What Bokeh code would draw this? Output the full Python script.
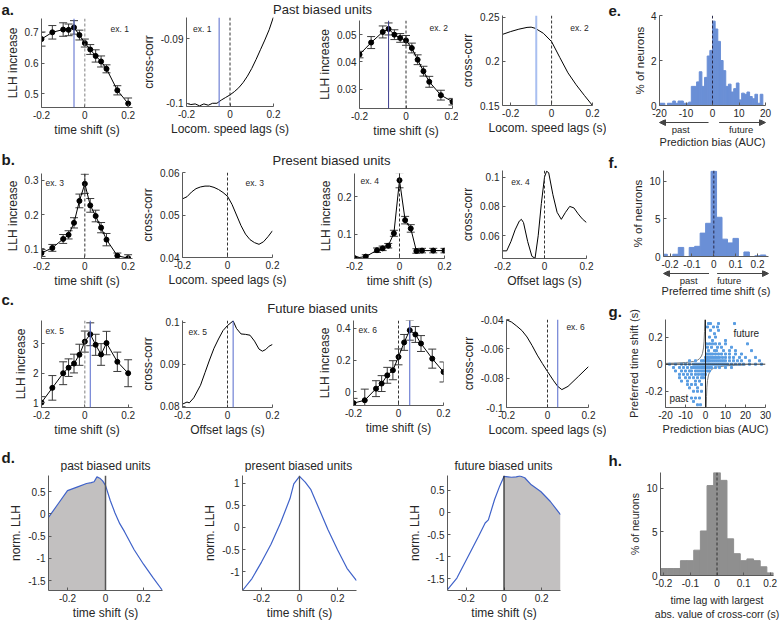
from bokeh.plotting import figure
from bokeh.layouts import row, column
from bokeh.models import (Range1d, FixedTicker, Span, Label, Whisker, TeeHead, Title,
                          ColumnDataSource, Arrow, NormalHead, CustomJSTickFormatter)
from bokeh.embed import file_html
from bokeh.resources import INLINE

# ---------------- data ----------------
shifts = [-0.2, -0.15, -0.1, -0.075, -0.05, -0.025, 0, 0.025, 0.05, 0.075, 0.1, 0.15, 0.2]

a1_llh = [0.678, 0.700, 0.709, 0.708, 0.716, 0.691, 0.665, 0.644, 0.623, 0.605, 0.581, 0.511, 0.468]
a1_err = [0.023, 0.022, 0.022, 0.019, 0.022, 0.016, 0.013, 0.016, 0.020, 0.018, 0.013, 0.015, 0.018]
a2_lag = [-0.2, -0.18, -0.16, -0.14, -0.12, -0.10, -0.08, -0.06, -0.04, -0.02, 0, 0.02, 0.04, 0.06, 0.08, 0.10, 0.12, 0.14, 0.16, 0.18, 0.20]
a2_cc = [-0.1000, -0.1002, -0.1001, -0.1004, -0.1001, -0.1003, -0.1000, -0.1000, -0.0995, -0.0991, -0.0987, -0.0982, -0.0976, -0.0968, -0.0958, -0.0946, -0.0932, -0.0917, -0.0902, -0.0886, -0.0866]
a3_llh = [0.0427, 0.0471, 0.0510, 0.0521, 0.0500, 0.0488, 0.0479, 0.0451, 0.0408, 0.0366, 0.0327, 0.0278, 0.0254]
a3_err = [0.0012, 0.0022, 0.0022, 0.0022, 0.0018, 0.0016, 0.0018, 0.0018, 0.0018, 0.0018, 0.0020, 0.0018, 0.0012]
a4_lag = [-0.24, -0.20, -0.16, -0.12, -0.10, -0.08, -0.04, 0, 0.04, 0.08, 0.12, 0.16, 0.20]
a4_cc = [0.2306, 0.2338, 0.2365, 0.2385, 0.2388, 0.2375, 0.2318, 0.2224, 0.2045, 0.1870, 0.1735, 0.1615, 0.1500]

b1_llh = [0.088, 0.103, 0.129, 0.141, 0.176, 0.240, 0.290, 0.227, 0.196, 0.162, 0.127, 0.080, 0.073]
b1_err = [0.010, 0.010, 0.013, 0.012, 0.015, 0.020, 0.028, 0.020, 0.017, 0.015, 0.018, 0.008, 0.010]
b2_lag = [-0.2, -0.18, -0.16, -0.14, -0.12, -0.10, -0.08, -0.06, -0.04, -0.02, 0, 0.02, 0.04, 0.06, 0.08, 0.10, 0.12, 0.14, 0.16, 0.18, 0.20]
b2_cc = [0.0538, 0.0543, 0.0554, 0.0562, 0.0566, 0.0568, 0.0568, 0.0565, 0.0560, 0.0553, 0.0544, 0.0525, 0.0500, 0.0475, 0.0455, 0.0442, 0.0435, 0.0431, 0.0437, 0.0449, 0.0463]
b3_llh = [0.037, 0.041, 0.058, 0.063, 0.070, 0.103, 0.244, 0.138, 0.116, 0.056, 0.057, 0.057, 0.057]
b3_err = [0.004, 0.005, 0.006, 0.006, 0.006, 0.008, 0.020, 0.010, 0.010, 0.006, 0.006, 0.006, 0.006]
b4_lag = [-0.20, -0.18, -0.16, -0.14, -0.12, -0.11, -0.10, -0.08, -0.06, -0.045, -0.03, -0.015, 0.0, 0.01, 0.02, 0.04, 0.06, 0.08, 0.10, 0.12, 0.14, 0.16, 0.18, 0.20]
b4_cc = [0.0497, 0.0497, 0.0560, 0.0640, 0.0700, 0.0712, 0.0690, 0.0560, 0.0460, 0.0447, 0.0600, 0.0820, 0.1000, 0.1040, 0.1030, 0.0880, 0.0760, 0.0712, 0.0760, 0.0800, 0.0790, 0.0750, 0.0715, 0.0690]

c1_llh = [1.0, 1.5, 2.0, 2.19, 2.33, 2.63, 3.08, 3.33, 2.97, 2.64, 3.03, 2.39, 2.0]
c1_err = [0.2, 0.42, 0.39, 0.30, 0.32, 0.36, 0.36, 0.39, 0.36, 0.37, 0.40, 0.33, 0.46]
c2_lag = [-0.20, -0.18, -0.17, -0.15, -0.12, -0.10, -0.08, -0.06, -0.04, -0.02, 0.0, 0.025, 0.04, 0.06, 0.08, 0.10, 0.12, 0.14, 0.155, 0.17, 0.185, 0.20]
c2_cc = [0.0805, 0.0810, 0.0808, 0.0820, 0.0850, 0.0880, 0.0910, 0.0938, 0.0960, 0.0980, 0.0992, 0.1003, 0.0985, 0.0972, 0.0971, 0.0969, 0.0955, 0.0936, 0.0931, 0.0935, 0.0943, 0.0947]
c3_llh = [-0.07, -0.052, 0.021, 0.053, 0.105, 0.137, 0.221, 0.312, 0.389, 0.362, 0.305, 0.21, 0.126]
c3_err = [0.03, 0.07, 0.05, 0.05, 0.05, 0.06, 0.05, 0.05, 0.063, 0.05, 0.05, 0.06, 0.063]
c4_lag = [-0.2, -0.175, -0.15, -0.125, -0.1, -0.075, -0.05, -0.025, 0, 0.03, 0.05, 0.07, 0.1, 0.15, 0.2]
c4_cc = [-0.0402, -0.0418, -0.0445, -0.0475, -0.0519, -0.0578, -0.0643, -0.0700, -0.0755, -0.0818, -0.0856, -0.0878, -0.0856, -0.0789, -0.0721]

d1_shift = [-0.30, -0.25, -0.20, -0.15, -0.10, -0.075, -0.06, -0.045, -0.03, -0.015, 0.00, 0.025, 0.05, 0.075, 0.10, 0.15, 0.20, 0.25, 0.30]
d1_llh = [-0.08, 0.22, 0.52, 0.60, 0.68, 0.70, 0.72, 0.83, 0.80, 0.74, 0.64, 0.30, 0.02, -0.22, -0.40, -0.80, -1.13, -1.43, -1.72]
d2_shift = [-0.30, -0.25, -0.20, -0.15, -0.10, -0.05, -0.03, 0.00, 0.03, 0.06, 0.10, 0.15, 0.20, 0.25, 0.30]
d2_llh = [-1.42, -1.15, -0.78, -0.38, 0.10, 0.65, 0.98, 1.15, 1.02, 0.85, 0.45, -0.05, -0.50, -0.92, -1.20]
d3_shift = [-0.30, -0.25, -0.19, -0.135, -0.10, -0.083, -0.05, -0.023, 0.00, 0.04, 0.065, 0.085, 0.11, 0.145, 0.195, 0.245, 0.30]
d3_llh = [-1.74, -1.48, -0.99, -0.54, -0.24, -0.17, 0.29, 0.59, 0.81, 0.79, 0.80, 0.82, 0.78, 0.62, 0.47, 0.25, -0.05]

e_left = [-20, -19, -18, -17, -16, -15, -14, -13, -12, -11, -10, -9, -8, -7, -6, -5, -4, -3, -2, -1,
          0, 1, 2, 3, 4, 5, 6, 7, 8, 9, 10, 11, 12, 13, 14, 15, 16, 17, 18]
e_pct = [0.1, 0.1, 0.0, 0.1, 0.1, 0.2, 0.1, 0.2, 0.2, 0.1, 0.1, 0.15, 0.85, 0.85, 1.05, 1.5, 0.85, 1.25, 2.2, 2.45,
         3.75, 3.4, 2.85, 2.0, 1.55, 0.85, 0.95, 0.6, 0.75, 1.0, 0.25, 0.55, 0.5, 0.6, 0.4, 0.3, 0.5, 0.1, 0.5]

f_center = [-0.225, -0.2, -0.175, -0.15, -0.125, -0.1, -0.075, -0.05, -0.025, 0, 0.025, 0.05, 0.075, 0.1, 0.125, 0.15, 0.175, 0.2, 0.225]
f_pct = [0.3, 0.0, 0.3, 1.2, 0.0, 1.2, 1.35, 3.1, 4.4, 11.3, 5.2, 2.3, 1.8, 2.4, 0.0, 0.6, 0.0, 0.1, 0.2]

g_bias = [1.5, 2.5, 6.5, 14.5, 1, 4, 6, 2.5, 6.5, 4.5, 2, 5, 3.5, 10,
          0.5, 2, 3.5, 5, 7, 10, 21, 1, 3, 6, 8, 13, 1.5, 4.5, 5.5, 9, 12, 15, 23,
          0.5, 1.5, 2.5, 3.5, 5, 6.5, 8, 10, 12, 15, 18,
          0, 0.5, 1, 2, 3, 4, 5, 6, 7, 8.5, 10, 12, 14, 17, 20, 25,
          -8, -5, -2, -1, 0, 0.5, 1, 1.5, 2, 3, 4, 5, 6, 7, 8, 9, 10, 12, 14, 16, 18, 22, 27,
          -18, -15, -12, -10, -8, -6, -5, -4, -3, -2, -1, 0, 1, 2, 3, 4, 5, 6, 7, 8, 9, 10, 11, 13, 15, 17, 19, 22, 25, 28,
          -16, -13, -11, -9, -7, -6, -5, -4, -3, -2, -1.5, -1, -0.5, 0, 1, 2, 3, 5, 7, 10, 13,
          -15, -12, -10, -8, -7, -5, -4, -3, -2, -1, 0, 1, 2,
          -13, -11, -9, -7, -5, -3.5, -2, -1, 0,
          -13, -10, -8, -6, -4, -2, -1, -12, -9, -5, -3, -9, -7, -5, -2, -8, -4,
          -6, -4, -2, -7, -5, -3, -6, -4, -2.5]
g_shift = [0.3] * 4 + [0.275] * 3 + [0.25] * 2 + [0.225] + [0.2] * 2 + [0.175] * 2 + \
          [0.15] * 7 + [0.125] * 5 + [0.1] * 7 + [0.075] * 11 + [0.05] * 16 + [0.025] * 23 + \
          [0.0] * 30 + [-0.025] * 21 + [-0.05] * 13 + [-0.075] * 9 + [-0.1] * 7 + [-0.125] * 4 + \
          [-0.15] * 4 + [-0.175] * 2 + [-0.2] * 3 + [-0.25] * 3 + [-0.275] + [-0.3] * 2
g_curve_bias = [-20, -15, -10, -6, -4, -3, -2, -1.5, -1, -0.7, -0.5, -0.37]
g_curve_shift = [0.006, 0.008, 0.012, 0.02, 0.03, 0.04, 0.06, 0.08, 0.12, 0.17, 0.24, 0.33]

h_center = [-0.2, -0.175, -0.15, -0.125, -0.1, -0.075, -0.05, -0.025, 0, 0.025, 0.05, 0.075, 0.1, 0.125, 0.15, 0.175, 0.2]
h_pct = [0.8, 0.8, 0.8, 1.7, 1.7, 2.9, 5.1, 10.3, 11.8, 10.9, 4.2, 2.5, 1.7, 1.9, 1.7, 1.0, 0.3]

# ---------------- styling helpers ----------------
FONT = "Liberation Sans"
TXT = "#262626"
AXC = "#5a5a5a"
GEOM = {}
FMT = CustomJSTickFormatter(code="return String(Number(tick.toFixed(6)));")
LETTER_SIZE = "15px"


def mkfig(W, H, L, R, T, B, xr, yr, xt, yt, xlabel="", ylabel="", tsize="10px", lsize="12px"):
    p = figure(width=W, height=H, x_range=Range1d(*xr), y_range=Range1d(*yr),
               min_border_left=L, min_border_right=R, min_border_top=T, min_border_bottom=B,
               output_backend="svg", toolbar_location=None)
    p.outline_line_color = None
    p.grid.visible = False
    p.border_fill_color = "white"
    for ax, ticks, lab in ((p.xaxis[0], xt, xlabel), (p.yaxis[0], yt, ylabel)):
        ax.ticker = FixedTicker(ticks=ticks)
        ax.formatter = FMT
        ax.axis_label = lab
        ax.axis_line_color = AXC
        ax.major_tick_line_color = AXC
        ax.major_tick_in = 3
        ax.major_tick_out = 0
        ax.minor_tick_line_color = None
        ax.major_label_text_font = FONT
        ax.major_label_text_font_size = tsize
        ax.major_label_text_color = TXT
        ax.axis_label_text_font = FONT
        ax.axis_label_text_font_size = lsize
        ax.axis_label_text_font_style = "normal"
        ax.axis_label_text_color = TXT
        ax.major_label_standoff = 3
        ax.axis_label_standoff = 2
    p.xaxis[0].axis_label_standoff = 1
    GEOM[p.id] = (L, W - L - R, H - T - B)
    return p


def box(p):
    # wrap a plot so that Bokeh does not align its borders with its siblings
    return row(p)


def note(p, dx, dy, text, size="8.5px", align="left", color=TXT):
    _, fw, fh = GEOM[p.id]
    xr, yr = p.x_range, p.y_range
    x = xr.start + dx / fw * (xr.end - xr.start)
    y = yr.end - dy / fh * (yr.end - yr.start)
    p.add_layout(Label(x=x, y=y, text=text, text_font=FONT, text_font_size=size,
                       text_align=align, text_baseline="middle", text_color=color))


def xpix(p, x):
    L, fw, _ = GEOM[p.id]
    return L + (x - p.x_range.start) / (p.x_range.end - p.x_range.start) * fw


def strip(W, H):
    p = figure(width=W, height=H, x_range=Range1d(0, W), y_range=Range1d(H, 0),
               min_border_left=0, min_border_right=0, min_border_top=0, min_border_bottom=0,
               x_axis_location=None, y_axis_location=None,
               output_backend="svg", toolbar_location=None)
    p.outline_line_color = None
    p.grid.visible = False
    p.border_fill_color = "white"
    return p


def stext(p, x, y, text, size="13px", bold=False, align="left"):
    p.add_layout(Label(x=x, y=y, text=text, text_font=FONT, text_font_size=size,
                       text_align=align, text_baseline="middle", text_color="#1a1a1a" if bold else TXT,
                       text_font_style="bold" if bold else "normal"))


def letter(p, x, y, text):
    stext(p, x, y, text, size=LETTER_SIZE, bold=True)


def title_letter(p, text, dx):
    p.add_layout(Title(text=text, align="left", offset=dx, standoff=0, text_font=FONT,
                       text_font_size=LETTER_SIZE, text_font_style="bold", text_color="#1a1a1a"), "above")


def vline(p, x, color="#333333", dash="3 2", width=1.0):
    p.add_layout(Span(location=x, dimension="height", line_color=color, line_dash=dash, line_width=width))


def hline(p, y, color="#333333", width=1.0):
    p.add_layout(Span(location=y, dimension="width", line_color=color, line_width=width))


def llh_panel(p, y, e):
    src = ColumnDataSource(dict(x=shifts, lo=[a - b for a, b in zip(y, e)], hi=[a + b for a, b in zip(y, e)]))
    p.add_layout(Whisker(source=src, base="x", lower="lo", upper="hi", dimension="height",
                         line_color="#3a3a3a", line_width=1,
                         lower_head=TeeHead(size=8, line_color="#3a3a3a", line_width=1),
                         upper_head=TeeHead(size=8, line_color="#3a3a3a", line_width=1)))
    p.line(shifts, y, line_color="black", line_width=1)
    p.scatter(shifts, y, size=5, color="black")


def arrow(p, x0, x1, y):
    p.add_layout(Arrow(x_start=x0, y_start=y, x_end=x1, y_end=y, line_color="#444444", line_width=1,
                       end=NormalHead(size=6, fill_color="#444444", line_color="#444444")))


BLUE = "#5468cc"
TS = "time shift (s)"
LOC = "Locom. speed lags (s)"
OFF = "Offset lags (s)"
XT = [-0.2, 0, 0.2]

# ---------------- row a ----------------
a1 = mkfig(138, 123, 41, 6, 1, 33, (-0.2, 0.22), (0.455, 0.745), XT, [0.5, 0.6, 0.7], TS, "LLH increase")
vline(a1, 0, color="#808080")
vline(a1, -0.05, color=BLUE, dash="solid")
llh_panel(a1, a1_llh, a1_err)
note(a1, 69, 10, "ex. 1")

a2 = mkfig(152, 123, 42, 17, 0, 34, (-0.2, 0.2), (-0.1005, -0.0867), XT, [-0.1, -0.09], LOC, "cross-corr")
vline(a2, 0)
vline(a2, -0.05, color=BLUE, dash="solid")
a2.line(a2_lag, a2_cc, line_color="black", line_width=1)
note(a2, 7, 11, "ex. 1")

a3 = mkfig(168, 123, 69, 6, 3, 32, (-0.2, 0.2), (0.0229, 0.0552), XT, [0.03, 0.04, 0.05], TS, "LLH increase")
vline(a3, 0)
vline(a3, -0.075, color="#3c3c8c", dash="solid")
llh_panel(a3, a3_llh, a3_err)
note(a3, 70, 7, "ex. 2")

a4 = mkfig(148, 140, 41, 14, 15, 35, (-0.24, 0.2), (0.15, 0.252), XT, [0.15, 0.2, 0.25], LOC, "cross-corr")
vline(a4, 0)
vline(a4, -0.075, color="#a9bff0", dash="solid", width=2)
a4.line(a4_lag, a4_cc, line_color="black", line_width=1)
note(a4, 70, 12, "ex. 2")

sa = strip(458, 17)
letter(sa, 1, 8.5, "a.")
stext(sa, 322, 8.5, "Past biased units", align="center")
block_a = row(column(box(sa), row(box(a1), box(a2), box(a3))), box(a4))

# ---------------- row b ----------------
b1 = mkfig(138, 123, 41, 6, 6, 32, (-0.2, 0.22), (0.072, 0.32), XT, [0.1, 0.2, 0.3], TS, "LLH increase")
vline(b1, 0)
llh_panel(b1, b1_llh, b1_err)
note(b1, 4, 9, "ex. 3")

b2 = mkfig(152, 123, 44, 18, 5, 33, (-0.2, 0.2), (0.04, 0.06), XT, [0.04, 0.05, 0.06], LOC, "cross-corr")
vline(b2, 0)
b2.line(b2_lag, b2_cc, line_color="black", line_width=1)
note(b2, 63, 10, "ex. 3")

b3 = mkfig(168, 123, 64, 14, 6, 31, (-0.2, 0.2), (0.036, 0.262), XT, [0.1, 0.2], TS, "LLH increase")
vline(b3, 0)
llh_panel(b3, b3_llh, b3_err)
note(b3, 6, 8, "ex. 4")

b4 = mkfig(148, 150, 41, 20, 30, 32, (-0.2, 0.2), (0.0445, 0.1045), XT, [0.06, 0.08, 0.1], OFF, "cross-corr")
vline(b4, 0)
b4.line(b4_lag, b4_cc, line_color="black", line_width=1)
note(b4, 9, 11, "ex. 4")

sb = strip(458, 27)
letter(sb, 1, 18.5, "b.")
stext(sb, 331, 19.5, "Present biased units", align="center")
block_b = row(column(box(sb), row(box(b1), box(b2), box(b3))), box(b4))

# ---------------- row c ----------------
c1 = mkfig(138, 125, 41, 6, 5, 33, (-0.2, 0.22), (0.83, 3.8), XT, [1, 2, 3], TS, "LLH increase")
vline(c1, 0, color="#808080")
vline(c1, 0.025, color=BLUE, dash="solid")
llh_panel(c1, c1_llh, c1_err)
note(c1, 4, 10, "ex. 5")

c2 = mkfig(152, 125, 44, 18, 5, 33, (-0.2, 0.2), (0.0797, 0.1004), XT, [0.08, 0.09, 0.1], OFF, "cross-corr")
vline(c2, 0)
vline(c2, 0.025, color=BLUE, dash="solid")
c2.line(c2_lag, c2_cc, line_color="black", line_width=1)
note(c2, 6, 11, "ex. 5")

c3 = mkfig(168, 125, 63, 15, 5, 35, (-0.2, 0.2), (-0.085, 0.45), XT, [0, 0.2, 0.4], TS, "LLH increase")
vline(c3, 0)
vline(c3, 0.05, color=BLUE, dash="solid")
llh_panel(c3, c3_llh, c3_err)
note(c3, 5, 9, "ex. 6")

c4 = mkfig(148, 150, 41, 18, 29, 33, (-0.2, 0.2), (-0.1, -0.04), XT, [-0.1, -0.08, -0.06, -0.04], LOC, "cross-corr")
vline(c4, 0)
vline(c4, 0.05, color=BLUE, dash="solid")
c4.line(c4_lag, c4_cc, line_color="black", line_width=1)
note(c4, 65, 7, "ex. 6")

sc = strip(458, 25)
letter(sc, 1, 8.5, "c.")
stext(sc, 322, 17.5, "Future biased units", align="center")
block_c = row(column(box(sc), row(box(c1), box(c2), box(c3))), box(c4))

# ---------------- row d ----------------
DBLUE = "#3f62c9"
FILL = "#c2c0c0"
DX = [-0.2, 0, 0.2]

d1 = mkfig(200, 150, 48, 38, 3, 32, (-0.3, 0.3), (-1.72, 0.86), DX, [-1.5, -1, -0.5, 0, 0.5], TS, "norm. LLH")
k1 = d1_shift.index(0.0)
d1.varea(x=d1_shift[:k1 + 1], y1=[-1.72] * (k1 + 1), y2=d1_llh[:k1 + 1], fill_color=FILL)
vline(d1, 0, color="#555555", dash="solid", width=1.5)
d1.line(d1_shift, d1_llh, line_color=DBLUE, line_width=1.2)

d2 = mkfig(205, 150, 40, 49, 3, 32, (-0.3, 0.3), (-1.42, 1.17), DX, [-1, -0.5, 0, 0.5, 1], TS, "norm. LLH")
vline(d2, 0, color="#555555", dash="solid", width=1.2)
d2.line(d2_shift, d2_llh, line_color=DBLUE, line_width=1.2)

d3 = mkfig(201, 150, 40, 46, 3, 32, (-0.3, 0.3), (-1.76, 0.83), DX, [-1.5, -1, -0.5, 0, 0.5], TS, "norm. LLH")
k3 = d3_shift.index(0.0)
d3.varea(x=d3_shift[k3:], y1=[-1.76] * (len(d3_shift) - k3), y2=d3_llh[k3:], fill_color=FILL)
vline(d3, 0, color="#222222", dash="solid", width=1.2)
d3.line(d3_shift, d3_llh, line_color=DBLUE, line_width=1.2)

sd = strip(606, 32)
letter(sd, 1, 17, "d.")
stext(sd, 105, 25, "past biased units", size="12px", align="center")
stext(sd, 298, 25, "present biased units", size="12px", align="center")
stext(sd, 503, 25, "future biased units", size="12px", align="center")
block_d = column(box(sd), row(box(d1), box(d2), box(d3)))

left = column(block_a, block_b, block_c, block_d)

# ---------------- right column ----------------
HBLUE = "#6a8fd6"
RW = 174

e = mkfig(RW, 119, 53, 15, 15, 14, (-20, 20), (0, 4), [-20, -10, 0, 10, 20], [0, 2, 4],
          "", "% of neurons", lsize="11.5px")
e.quad(left=e_left, right=[v + 1 for v in e_left], top=e_pct, bottom=0, fill_color=HBLUE, line_color=HBLUE)
vline(e, 0, color="#2a2a4a")
title_letter(e, "e.", -51)
se2 = strip(RW, 31)
arrow(se2, xpix(e, -1.5), xpix(e, -20), 3)
arrow(se2, xpix(e, 2.5), xpix(e, 20), 3)
stext(se2, xpix(e, -12), 9.5, "past", size="9.5px", align="center")
stext(se2, xpix(e, 10.8), 9.5, "future", size="9.5px", align="center")
stext(se2, xpix(e, 0), 22, "Prediction bias (AUC)", size="11px", align="center")

sf1 = strip(RW, 20)
letter(sf1, 2, 11.5, "f.")
f = mkfig(RW, 100, 57, 12, 0, 12, (-0.23, 0.25), (0, 11.4), [-0.2, -0.1, 0, 0.1, 0.2], [0, 5, 10],
          "", "% of neurons", lsize="11.5px")
f.quad(left=[c - 0.0125 for c in f_center], right=[c + 0.0125 for c in f_center], top=f_pct, bottom=0,
       fill_color=HBLUE, line_color=HBLUE)
vline(f, 0, color="#2a2a4a")
sf2 = strip(RW, 30)
arrow(sf2, xpix(f, -0.022), xpix(f, -0.23), 3)
arrow(sf2, xpix(f, 0.015), xpix(f, 0.25), 3)
stext(sf2, xpix(f, -0.115), 9.5, "past", size="9.5px", align="center")
stext(sf2, xpix(f, 0.07), 9.5, "future", size="9.5px", align="center")
stext(sf2, xpix(f, 0.01), 20, "Preferred time shift (s)", size="11px", align="center")

g = mkfig(RW, 145, 59, 15, 15, 38, (-20, 30), (-0.32, 0.33), [-20, -10, 0, 10, 20, 30], [-0.2, 0, 0.2],
          "Prediction bias (AUC)", "Preferred time shift (s)", lsize="11px")
hline(g, 0, color="#333333")
vline(g, 0, color="#222222", dash="solid")
g.line(g_curve_bias, g_curve_shift, line_color="#7a7a7a", line_width=1)
g.line([-b for b in g_curve_bias], [-s for s in g_curve_shift], line_color="#7a7a7a", line_width=1)
g.scatter(g_bias, g_shift, marker="square", size=2, color="#5a9de2")
note(g, 68, 15, "future", size="10px")
note(g, 4, 83, "past", size="10px")
title_letter(g, "g.", -57)

sh = strip(RW, 25)
letter(sh, 2, 15, "h.")
h = mkfig(RW, 152, 54, 7, 2, 39, (-0.2125, 0.2125), (0, 11.8), [-0.2, -0.1, 0, 0.1, 0.2], [0, 5, 10],
          "time lag with largest\nabs. value of cross-corr (s)", "% of neurons", lsize="10.5px")
h.quad(left=[c - 0.0125 for c in h_center], right=[c + 0.0125 for c in h_center], top=h_pct, bottom=0,
       fill_color="#8f8f8f", line_color="#8f8f8f")
vline(h, 0, color="#333333")
h.xaxis[0].axis_label_standoff = 4

right = column(box(e), box(se2), box(sf1), box(f), box(sf2), box(g), box(sh), box(h))
layout = row(left, right)

open("out.html", "w").write(file_html(layout, INLINE))
